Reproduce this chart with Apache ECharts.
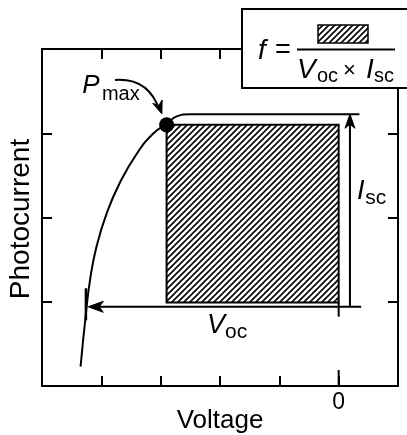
<!DOCTYPE html>
<html><head><meta charset="utf-8">
<script src="https://cdn.jsdelivr.net/npm/echarts@6/dist/echarts.min.js"></script>
<style>html,body{margin:0;padding:0;background:#fff}#c{width:407px;height:435px}</style>
</head><body><div id="c"></div>
<script>
// ---- data ----
const voltage      = [-4.35, -4.26, -4.19, -4.08, -3.91, -3.69, -3.40, -3.12, -2.90, -2.73, -2.51, -2.30, 0.35];
const photocurrent = [ 0.23,  0.86,  1.26,  1.66,  2.05,  2.41,  2.76,  3.00,  3.11,  3.20,  3.225, 3.225, 3.225];
const pmaxPoint    = [-2.9, 3.1];
const rectVoltage  = [-2.9, 0];
const rectCurrent  = [0.99, 3.1];
const vocLine      = [0.38, -4.22, 0.94];   // from x, to x, at y
const iscLine      = [0.19, 0.94, 3.225];   // at x, from y, to y
const vocMarker    = [-4.26, 0.78, 1.16];   // at x, from y, to y
const xTickLabels  = ['', '', '', '', '', '0', ''];   // for -5..1

const FONT = '"Liberation Sans", Arial, Helvetica, sans-serif';

function hatchCanvas() {
  const c = document.createElement('canvas');
  c.width = 6; c.height = 6;
  const g = c.getContext('2d');
  g.strokeStyle = '#000'; g.lineWidth = 1.6; g.lineCap = 'square';
  for (const o of [-6, 0, 6]) { g.beginPath(); g.moveTo(o, 6); g.lineTo(o + 6, 0); g.stroke(); }
  return c;
}
const pat = { image: hatchCanvas(), repeat: 'repeat' };

function arrowHead(tip, from, len, half, notch) {
  const dx = tip[0] - from[0], dy = tip[1] - from[1];
  const d = Math.hypot(dx, dy) || 1;
  const ux = dx / d, uy = dy / d, nx = -uy, ny = ux;
  const bx = tip[0] - ux * len, by = tip[1] - uy * len;
  return { type: 'polygon', shape: { points: [
    tip, [bx + nx * half, by + ny * half], [tip[0] - ux * (len - notch), tip[1] - uy * (len - notch)], [bx - nx * half, by - ny * half]
  ] }, style: { fill: '#000', stroke: '#000', lineWidth: 1 } };
}

const chart = echarts.init(document.getElementById('c'));
const axisCommon = {
  type: 'value', scale: false,
  axisLine: { show: true, onZero: false, lineStyle: { color: '#000', width: 2 } },
  axisTick: { show: true, inside: true, length: 10, lineStyle: { color: '#000', width: 2 } },
  splitLine: { show: false }, axisLabel: { show: false }
};
function txt(x, y, text, size, italic) {
  return { type: 'text', x: x, y: y, style: { text: text, fontSize: size, fontFamily: FONT, fontStyle: italic ? 'italic' : 'normal', fill: '#000', align: 'left', verticalAlign: 'middle' } };
}

chart.setOption({
  animation: false,
  grid: { left: 42, right: 9, top: 49, bottom: 49 },
  xAxis: [
    Object.assign({}, axisCommon, { position: 'bottom', min: -5, max: 1, interval: 1,
      axisLabel: { show: true, formatter: v => xTickLabels[Math.round(v) + 5], fontSize: 23, color: '#000', fontFamily: FONT, margin: 5 } }),
    Object.assign({}, axisCommon, { position: 'top', min: -5, max: 1, interval: 1 })
  ],
  yAxis: [
    Object.assign({}, axisCommon, { position: 'left', min: 0, max: 4, interval: 1 }),
    Object.assign({}, axisCommon, { position: 'right', min: 0, max: 4, interval: 1 })
  ],
  series: [
    { type: 'custom', z: 2, silent: true, data: [[rectVoltage[0], rectCurrent[0]]],
      renderItem: (params, api) => {
        const p1 = api.coord([rectVoltage[0], rectCurrent[1]]);
        const p2 = api.coord([rectVoltage[1], rectCurrent[0]]);
        return { type: 'rect', shape: { x: p1[0], y: p1[1], width: p2[0] - p1[0], height: p2[1] - p1[1] },
          style: { fill: pat, stroke: '#000', lineWidth: 2 } };
      } },
    { type: 'line', z: 3, silent: true, data: voltage.map((v, i) => [v, photocurrent[i]]), smooth: 0.5,
      showSymbol: false, lineStyle: { color: '#000', width: 2 } },
    { type: 'scatter', z: 6, silent: true, data: [pmaxPoint], symbolSize: 15, itemStyle: { color: '#000', opacity: 1 } },
    { type: 'custom', z: 5, silent: true, data: [[0, 0]],
      renderItem: (params, api) => {
        const c = api.coord;
        const ls = { stroke: '#000', lineWidth: 2, fill: null };
        const vA = c([vocLine[0], vocLine[2]]), vB = c([vocLine[1], vocLine[2]]);
        const iA = c([iscLine[0], iscLine[1]]), iB = c([iscLine[0], iscLine[2]]);
        const m1 = c([vocMarker[0], vocMarker[1]]), m2 = c([vocMarker[0], vocMarker[2]]);
        const z0 = c([0, 0]), z1 = c([0, rectCurrent[0]]);
        const pS = c([-3.77, 3.632]), pC = c([-3.20, 3.66]), pE = c([-3.02, 3.27]);
        const children = [
          { type: 'line', shape: { x1: vA[0], y1: vA[1], x2: vB[0] + 6, y2: vB[1] }, style: ls },
          arrowHead(vB, vA, 15, 5.5, 4),
          { type: 'line', shape: { x1: iA[0], y1: iA[1], x2: iB[0], y2: iB[1] + 6 }, style: ls },
          arrowHead(iB, iA, 14, 5, 4),
          { type: 'line', shape: { x1: m1[0], y1: m1[1], x2: m2[0], y2: m2[1] }, style: { stroke: '#000', lineWidth: 2.5 } },
          { type: 'line', shape: { x1: z1[0], y1: z1[1], x2: z1[0], y2: z1[1] + 14 }, style: ls },
          { type: 'line', shape: { x1: z0[0], y1: z0[1], x2: z0[0], y2: z0[1] - 16 }, style: ls },
          { type: 'bezierCurve', shape: { x1: pS[0], y1: pS[1], x2: pE[0], y2: pE[1], cpx1: pC[0], cpy1: pC[1] }, style: ls },
          arrowHead(c([-2.98, 3.23]), pC, 13, 5, 4)
        ];
        const P = c([-4.32, 3.56]), mx = c([-3.99, 3.466]);
        const V = c([-2.22, 0.724]), oc = c([-1.916, 0.641]);
        const I = c([0.31, 2.303]), sc = c([0.45, 2.231]);
        children.push(txt(P[0], P[1], 'P', 26, true), txt(mx[0], mx[1], 'max', 20, false),
          txt(V[0], V[1], 'V', 27, true), txt(oc[0], oc[1], 'oc', 21, false),
          txt(I[0], I[1], 'I', 27, true), txt(sc[0], sc[1], 'sc', 21, false));
        return { type: 'group', children: children };
      } }
  ],
  graphic: [
    { type: 'text', z: 10, x: 220, y: 421, style: { text: 'Voltage', fontSize: 26, fontFamily: FONT, fill: '#000', align: 'center', verticalAlign: 'middle' } },
    { type: 'text', z: 10, x: 21, y: 219, rotation: Math.PI / 2, style: { text: 'Photocurrent', fontSize: 28, fontFamily: FONT, fill: '#000', align: 'center', verticalAlign: 'middle' } },
    { type: 'rect', z: 100, shape: { x: 242, y: 9, width: 200, height: 79 }, style: { fill: '#fff', stroke: '#000', lineWidth: 2 } },
    { type: 'text', z: 101, x: 258, y: 51, style: { text: 'f', fontSize: 28, fontStyle: 'italic', fontFamily: FONT, fill: '#000', verticalAlign: 'middle' } },
    { type: 'text', z: 101, x: 275, y: 51, style: { text: '=', fontSize: 27, fontFamily: FONT, fill: '#000', verticalAlign: 'middle' } },
    { type: 'rect', z: 101, shape: { x: 318, y: 25, width: 50, height: 18 }, style: { fill: pat, stroke: '#000', lineWidth: 1.5 } },
    { type: 'line', z: 101, shape: { x1: 297, y1: 49.5, x2: 395, y2: 49.5 }, style: { stroke: '#000', lineWidth: 2 } },
    { type: 'text', z: 101, x: 297, y: 70, style: { text: 'V', fontSize: 28, fontStyle: 'italic', fontFamily: FONT, fill: '#000', verticalAlign: 'middle' } },
    { type: 'text', z: 101, x: 317, y: 76, style: { text: 'oc', fontSize: 20, fontFamily: FONT, fill: '#000', verticalAlign: 'middle' } },
    { type: 'text', z: 101, x: 343, y: 71, style: { text: '×', fontSize: 22, fontFamily: FONT, fill: '#000', verticalAlign: 'middle' } },
    { type: 'text', z: 101, x: 366, y: 70, style: { text: 'I', fontSize: 28, fontStyle: 'italic', fontFamily: FONT, fill: '#000', verticalAlign: 'middle' } },
    { type: 'text', z: 101, x: 374, y: 76, style: { text: 'sc', fontSize: 20, fontFamily: FONT, fill: '#000', verticalAlign: 'middle' } }
  ]
});
</script></body></html>
